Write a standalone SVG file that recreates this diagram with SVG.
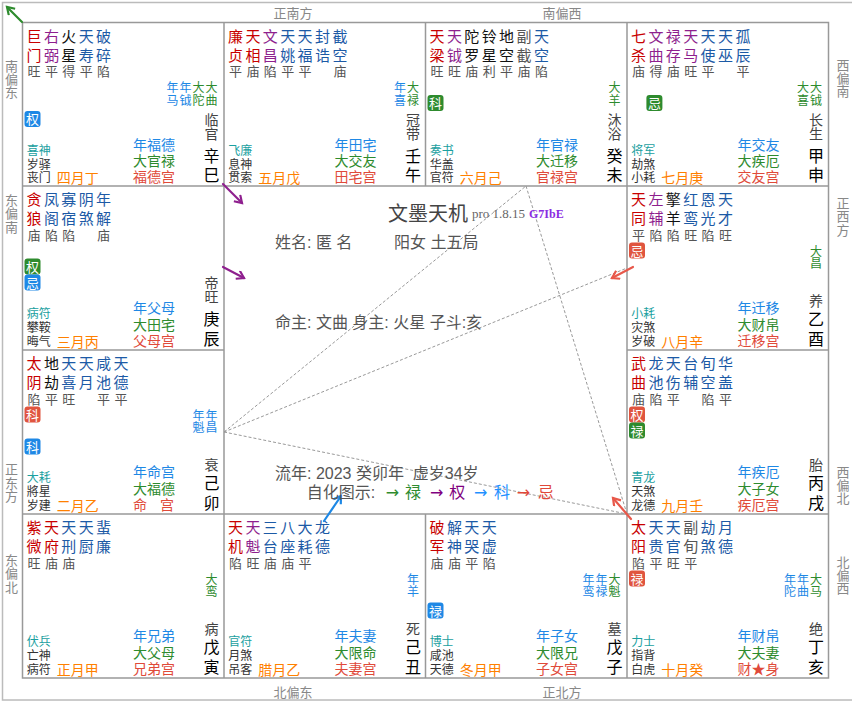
<svg xmlns="http://www.w3.org/2000/svg" width="852" height="702" viewBox="0 0 852 702">
<style>
text{font-family:"Liberation Sans","Noto Sans CJK SC",sans-serif}
.st{font-size:15px}
.r{fill:#c80000}.p{fill:#8e1f8e}.b{fill:#1c5aa6}.k{fill:#111}.gy{fill:#555}
.br{font-size:13px;fill:#555}
.sm{font-size:12px;text-anchor:middle}
.sb{fill:#1e88e5}.sg{fill:#2e8b2e}
.cs{font-size:14px;fill:#444;text-anchor:middle}
.gz{font-size:16px;fill:#000;text-anchor:middle}
.bs{font-size:12px;fill:#1aa0a0}
.t2{font-size:12px;fill:#333}
.mo{font-size:14px;fill:#ff8000}
.pa{font-size:14px}
.pb{fill:#1e88e5}.pg{fill:#2e8b2e}.pr{fill:#e04a3a}
.bdt{font-size:13px;fill:#fff;text-anchor:middle}
.dir{font-size:13px;fill:#888;text-anchor:middle}
.ctr{font-size:16px;fill:#555}
.ar{font-family:"DejaVu Sans","Noto Sans CJK SC",sans-serif;font-size:16px}
.grid{fill:none;stroke:#999;stroke-width:1.5}
.dash{fill:none;stroke:#999;stroke-width:1;stroke-dasharray:3 2}
.arr{fill:none;stroke-width:2.2;stroke-linecap:round}
</style>
<defs>
<marker id="mg" markerUnits="userSpaceOnUse" markerWidth="12" markerHeight="12" refX="8" refY="5" orient="auto"><path d="M1,0.5 L8,5 L1,9.5" fill="none" stroke="#2e8b2e" stroke-width="2.2"/></marker>
<marker id="mp" markerUnits="userSpaceOnUse" markerWidth="12" markerHeight="12" refX="8" refY="5" orient="auto"><path d="M1,0.5 L8,5 L1,9.5" fill="none" stroke="#8e1f8e" stroke-width="2.2"/></marker>
<marker id="mr" markerUnits="userSpaceOnUse" markerWidth="12" markerHeight="12" refX="8" refY="5" orient="auto"><path d="M1,0.5 L8,5 L1,9.5" fill="none" stroke="#e8584a" stroke-width="2.2"/></marker>
<marker id="mb" markerUnits="userSpaceOnUse" markerWidth="12" markerHeight="12" refX="8" refY="5" orient="auto"><path d="M1,0.5 L8,5 L1,9.5" fill="none" stroke="#1e88e5" stroke-width="2.2"/></marker>
</defs>
<rect x="0" y="0" width="852" height="702" fill="#fff"/>
<rect x="2.5" y="2.5" width="860" height="697.5" fill="none" stroke="#bbb" stroke-width="1.5"/>
<g id="grid">
<rect class="grid" x="22.5" y="22.5" width="806" height="655.5"/>
<path class="grid" d="M224,22.5V678 M627,22.5V678 M425.5,22.5V186 M425.5,514V678 M22.5,186H828.5 M22.5,514H828.5 M22.5,350H224 M627,350H828.5"/>
</g>
<g id="directions">
<text class="dir" x="293" y="18">正南方</text>
<text class="dir" x="562" y="18">南偏西</text>
<text class="dir" x="293" y="697">北偏东</text>
<text class="dir" x="562" y="697">正北方</text>
<text class="dir" x="11.5 11.5 11.5" y="71 84 97">南偏东</text>
<text class="dir" x="11.5 11.5 11.5" y="205 218 231.5">东偏南</text>
<text class="dir" x="11.5 11.5 11.5" y="474 487.5 501">正东方</text>
<text class="dir" x="11.5 11.5 11.5" y="565 578 591.5">东偏北</text>
<text class="dir" x="843 843 843" y="70 83 96">西偏南</text>
<text class="dir" x="843 843 843" y="208 221 234.5">正西方</text>
<text class="dir" x="843 843 843" y="476.7 490 503.3">西偏北</text>
<text class="dir" x="843 843 843" y="566.7 580 593.3">北偏西</text>
</g>

<g id="cell-si" transform="translate(22.5,22.5)">
<text class="st r" x="4 4" y="19.3 38">巨门</text>
<text class="st p" x="21.4 21.4" y="19.3 38">右弼</text>
<text class="st k" x="38.8 38.8" y="19.3 38">火星</text>
<text class="st b" x="56.2 56.2" y="19.3 38">天寿</text>
<text class="st b" x="73.6 73.6" y="19.3 38">破碎</text>
<text class="br" y="53.6" x="5 22.4 39.8 57.2 74.6">旺平得平陷</text>
<text class="sm sb" x="150 150" y="69.6 82.1">年马</text>
<text class="sm sb" x="163 163" y="69.6 82.1">年钺</text>
<text class="sm sg" x="176 176" y="69.6 82.1">大陀</text>
<text class="sm sg" x="189 189" y="69.6 82.1">大曲</text>
<rect x="2" y="88.5" width="16" height="16" rx="3" fill="#1e88e5"/><text class="bdt" x="10" y="101.6">权</text>
<text class="cs" x="189 189" y="102.3 116">临官</text>
<text class="gz" x="189 189" y="139 158.7">辛巳</text>
<text class="bs" x="4.2" y="132.4">喜神</text><text class="t2" x="4.2 16.2 4.2 16.2" y="146.3 146.3 159.6 159.6">岁驿丧门</text>
<text class="mo" x="34.2" y="160.7">四月丁</text>
<text class="pa pb" x="110.5" y="127.2">年福德</text><text class="pa pg" x="110.5" y="143.9">大官禄</text><text class="pa pr" x="110.5" y="159.9">福德宫</text>
</g>

<g id="cell-wu" transform="translate(224,22.5)">
<text class="st r" x="4 4" y="19.3 38">廉贞</text>
<text class="st r" x="21.4 21.4" y="19.3 38">天相</text>
<text class="st p" x="38.8 38.8" y="19.3 38">文昌</text>
<text class="st b" x="56.2 56.2" y="19.3 38">天姚</text>
<text class="st b" x="73.6 73.6" y="19.3 38">天福</text>
<text class="st b" x="91 91" y="19.3 38">封诰</text>
<text class="st b" x="108.4 108.4" y="19.3 38">截空</text>
<text class="br" y="53.6" x="5 22.4 39.8 57.2 74.6 109.4">平庙陷平平庙</text>
<text class="sm sb" x="176 176" y="69.6 82.1">年喜</text>
<text class="sm sg" x="189 189" y="69.6 82.1">大禄</text>
<text class="cs" x="189 189" y="102.3 116">冠带</text>
<text class="gz" x="189 189" y="139 158.7">壬午</text>
<text class="bs" x="4.2" y="132.4">飞廉</text><text class="t2" x="4.2 16.2 4.2 16.2" y="146.3 146.3 159.6 159.6">息神贯索</text>
<text class="mo" x="34.2" y="160.7">五月戊</text>
<text class="pa pb" x="110.5" y="127.2">年田宅</text><text class="pa pg" x="110.5" y="143.9">大交友</text><text class="pa pr" x="110.5" y="159.9">田宅宫</text>
</g>

<g id="cell-wei" transform="translate(425.5,22.5)">
<text class="st r" x="4 4" y="19.3 38">天梁</text>
<text class="st p" x="21.4 21.4" y="19.3 38">天钺</text>
<text class="st k" x="38.8 38.8" y="19.3 38">陀罗</text>
<text class="st k" x="56.2 56.2" y="19.3 38">铃星</text>
<text class="st k" x="73.6 73.6" y="19.3 38">地空</text>
<text class="st gy" x="91 91" y="19.3 38">副截</text>
<text class="st b" x="108.4 108.4" y="19.3 38">天空</text>
<text class="br" y="53.6" x="5 22.4 39.8 57.2 74.6 92 109.4">旺旺庙利平庙陷</text>
<text class="sm sg" x="189 189" y="69.6 82.1">大羊</text>
<rect x="2" y="72.5" width="16" height="16" rx="3" fill="#2e8b2e"/><text class="bdt" x="10" y="85.6">科</text>
<text class="cs" x="189 189" y="102.3 116">沐浴</text>
<text class="gz" x="189 189" y="139 158.7">癸未</text>
<text class="bs" x="4.2" y="132.4">奏书</text><text class="t2" x="4.2 16.2 4.2 16.2" y="146.3 146.3 159.6 159.6">华盖官符</text>
<text class="mo" x="34.2" y="160.7">六月己</text>
<text class="pa pb" x="110.5" y="127.2">年官禄</text><text class="pa pg" x="110.5" y="143.9">大迁移</text><text class="pa pr" x="110.5" y="159.9">官禄宫</text>
</g>

<g id="cell-shen" transform="translate(627,22.5)">
<text class="st r" x="4 4" y="19.3 38">七杀</text>
<text class="st p" x="21.4 21.4" y="19.3 38">文曲</text>
<text class="st p" x="38.8 38.8" y="19.3 38">禄存</text>
<text class="st p" x="56.2 56.2" y="19.3 38">天马</text>
<text class="st b" x="73.6 73.6" y="19.3 38">天使</text>
<text class="st b" x="91 91" y="19.3 38">天巫</text>
<text class="st b" x="108.4 108.4" y="19.3 38">孤辰</text>
<text class="br" y="53.6" x="5 22.4 39.8 57.2 74.6 109.4">庙得庙旺平平</text>
<text class="sm sg" x="176 176" y="69.6 82.1">大喜</text>
<text class="sm sg" x="189 189" y="69.6 82.1">大钺</text>
<rect x="19.4" y="72.5" width="16" height="16" rx="3" fill="#2e8b2e"/><text class="bdt" x="27.4" y="85.6">忌</text>
<text class="cs" x="189 189" y="102.3 116">长生</text>
<text class="gz" x="189 189" y="139 158.7">甲申</text>
<text class="bs" x="4.2" y="132.4">将军</text><text class="t2" x="4.2 16.2 4.2 16.2" y="146.3 146.3 159.6 159.6">劫煞小耗</text>
<text class="mo" x="34.2" y="160.7">七月庚</text>
<text class="pa pb" x="110.5" y="127.2">年交友</text><text class="pa pg" x="110.5" y="143.9">大疾厄</text><text class="pa pr" x="110.5" y="159.9">交友宫</text>
</g>

<g id="cell-chen" transform="translate(22.5,186)">
<text class="st r" x="4 4" y="19.3 38">贪狼</text>
<text class="st b" x="21.4 21.4" y="19.3 38">凤阁</text>
<text class="st b" x="38.8 38.8" y="19.3 38">寡宿</text>
<text class="st b" x="56.2 56.2" y="19.3 38">阴煞</text>
<text class="st b" x="73.6 73.6" y="19.3 38">年解</text>
<text class="br" y="53.6" x="5 22.4 39.8 74.6">庙陷陷庙</text>
<rect x="2" y="72.5" width="16" height="16" rx="3" fill="#2e8b2e"/><text class="bdt" x="10" y="85.6">权</text>
<rect x="2" y="88.5" width="16" height="16" rx="3" fill="#1e88e5"/><text class="bdt" x="10" y="101.6">忌</text>
<text class="cs" x="189 189" y="102.3 116">帝旺</text>
<text class="gz" x="189 189" y="139 158.7">庚辰</text>
<text class="bs" x="4.2" y="132.4">病符</text><text class="t2" x="4.2 16.2 4.2 16.2" y="146.3 146.3 159.6 159.6">攀鞍晦气</text>
<text class="mo" x="34.2" y="160.7">三月丙</text>
<text class="pa pb" x="110.5" y="127.2">年父母</text><text class="pa pg" x="110.5" y="143.9">大田宅</text><text class="pa pr" x="110.5" y="159.9">父母宫</text>
</g>

<g id="cell-mao" transform="translate(22.5,350)">
<text class="st r" x="4 4" y="19.3 38">太阴</text>
<text class="st k" x="21.4 21.4" y="19.3 38">地劫</text>
<text class="st b" x="38.8 38.8" y="19.3 38">天喜</text>
<text class="st b" x="56.2 56.2" y="19.3 38">天月</text>
<text class="st b" x="73.6 73.6" y="19.3 38">咸池</text>
<text class="st b" x="91 91" y="19.3 38">天德</text>
<text class="br" y="53.6" x="5 22.4 39.8 74.6 92">陷平旺平平</text>
<text class="sm sb" x="176 176" y="69.6 82.1">年魁</text>
<text class="sm sb" x="189 189" y="69.6 82.1">年昌</text>
<rect x="2" y="56.5" width="16" height="16" rx="3" fill="#e0553f"/><text class="bdt" x="10" y="69.6">科</text>
<rect x="2" y="88.5" width="16" height="16" rx="3" fill="#1e88e5"/><text class="bdt" x="10" y="101.6">科</text>
<text class="cs" x="189" y="119.6">衰</text>
<text class="gz" x="189 189" y="139 158.7">己卯</text>
<text class="bs" x="4.2" y="132.4">大耗</text><text class="t2" x="4.2 16.2 4.2 16.2" y="146.3 146.3 159.6 159.6">將星岁建</text>
<text class="mo" x="34.2" y="160.7">二月乙</text>
<text class="pa pb" x="110.5" y="127.2">年命宫</text><text class="pa pg" x="110.5" y="143.9">大福德</text><text class="pa pr" x="110.5 137.5" y="159.9 159.9">命宫</text>
</g>

<g id="cell-yin" transform="translate(22.5,514)">
<text class="st r" x="4 4" y="19.3 38">紫微</text>
<text class="st r" x="21.4 21.4" y="19.3 38">天府</text>
<text class="st b" x="38.8 38.8" y="19.3 38">天刑</text>
<text class="st b" x="56.2 56.2" y="19.3 38">天厨</text>
<text class="st b" x="73.6 73.6" y="19.3 38">蜚廉</text>
<text class="br" y="53.6" x="5 22.4 39.8">旺庙庙</text>
<text class="sm sg" x="189 189" y="69.6 82.1">大鸾</text>
<text class="cs" x="189" y="119.6">病</text>
<text class="gz" x="189 189" y="139 158.7">戊寅</text>
<text class="bs" x="4.2" y="132.4">伏兵</text><text class="t2" x="4.2 16.2 4.2 16.2" y="146.3 146.3 159.6 159.6">亡神病符</text>
<text class="mo" x="34.2" y="160.7">正月甲</text>
<text class="pa pb" x="110.5" y="127.2">年兄弟</text><text class="pa pg" x="110.5" y="143.9">大父母</text><text class="pa pr" x="110.5" y="159.9">兄弟宫</text>
</g>

<g id="cell-chou" transform="translate(224,514)">
<text class="st r" x="4 4" y="19.3 38">天机</text>
<text class="st p" x="21.4 21.4" y="19.3 38">天魁</text>
<text class="st b" x="38.8 38.8" y="19.3 38">三台</text>
<text class="st b" x="56.2 56.2" y="19.3 38">八座</text>
<text class="st b" x="73.6 73.6" y="19.3 38">大耗</text>
<text class="st b" x="91 91" y="19.3 38">龙德</text>
<text class="br" y="53.6" x="5 22.4 39.8 57.2 74.6">陷旺庙庙平</text>
<text class="sm sb" x="189 189" y="69.6 82.1">年羊</text>
<text class="cs" x="189" y="119.6">死</text>
<text class="gz" x="189 189" y="139 158.7">己丑</text>
<text class="bs" x="4.2" y="132.4">官符</text><text class="t2" x="4.2 16.2 4.2 16.2" y="146.3 146.3 159.6 159.6">月煞吊客</text>
<text class="mo" x="34.2" y="160.7">腊月乙</text>
<text class="pa pb" x="110.5" y="127.2">年夫妻</text><text class="pa pg" x="110.5" y="143.9">大限命</text><text class="pa pr" x="110.5" y="159.9">夫妻宫</text>
</g>

<g id="cell-zi" transform="translate(425.5,514)">
<text class="st r" x="4 4" y="19.3 38">破军</text>
<text class="st b" x="21.4 21.4" y="19.3 38">解神</text>
<text class="st b" x="38.8 38.8" y="19.3 38">天哭</text>
<text class="st b" x="56.2 56.2" y="19.3 38">天虚</text>
<text class="br" y="53.6" x="5 22.4 39.8 57.2">庙庙平陷</text>
<text class="sm sb" x="163 163" y="69.6 82.1">年鸾</text>
<text class="sm sb" x="176 176" y="69.6 82.1">年禄</text>
<text class="sm sg" x="189 189" y="69.6 82.1">大魁</text>
<rect x="2" y="88.5" width="16" height="16" rx="3" fill="#1e88e5"/><text class="bdt" x="10" y="101.6">禄</text>
<text class="cs" x="189" y="119.6">墓</text>
<text class="gz" x="189 189" y="139 158.7">戊子</text>
<text class="bs" x="4.2" y="132.4">博士</text><text class="t2" x="4.2 16.2 4.2 16.2" y="146.3 146.3 159.6 159.6">咸池天德</text>
<text class="mo" x="34.2" y="160.7">冬月甲</text>
<text class="pa pb" x="110.5" y="127.2">年子女</text><text class="pa pg" x="110.5" y="143.9">大限兄</text><text class="pa pr" x="110.5" y="159.9">子女宫</text>
</g>

<g id="cell-hai" transform="translate(627,514)">
<text class="st r" x="4 4" y="19.3 38">太阳</text>
<text class="st b" x="21.4 21.4" y="19.3 38">天贵</text>
<text class="st b" x="38.8 38.8" y="19.3 38">天官</text>
<text class="st gy" x="56.2 56.2" y="19.3 38">副旬</text>
<text class="st b" x="73.6 73.6" y="19.3 38">劫煞</text>
<text class="st b" x="91 91" y="19.3 38">月德</text>
<text class="br" y="53.6" x="5 22.4 39.8 57.2">陷平旺平</text>
<text class="sm sb" x="163 163" y="69.6 82.1">年陀</text>
<text class="sm sb" x="176 176" y="69.6 82.1">年曲</text>
<text class="sm sg" x="189 189" y="69.6 82.1">大马</text>
<rect x="2" y="56.5" width="16" height="16" rx="3" fill="#e0553f"/><text class="bdt" x="10" y="69.6">禄</text>
<text class="cs" x="189" y="119.6">绝</text>
<text class="gz" x="189 189" y="139 158.7">丁亥</text>
<text class="bs" x="4.2" y="132.4">力士</text><text class="t2" x="4.2 16.2 4.2 16.2" y="146.3 146.3 159.6 159.6">指背白虎</text>
<text class="mo" x="34.2" y="160.7">十月癸</text>
<text class="pa pb" x="110.5" y="127.2">年财帛</text><text class="pa pg" x="110.5" y="143.9">大夫妻</text><text class="pa pr" x="110.5" y="159.9">财★身</text>
</g>

<g id="cell-xu" transform="translate(627,350)">
<text class="st r" x="4 4" y="19.3 38">武曲</text>
<text class="st b" x="21.4 21.4" y="19.3 38">龙池</text>
<text class="st b" x="38.8 38.8" y="19.3 38">天伤</text>
<text class="st b" x="56.2 56.2" y="19.3 38">台辅</text>
<text class="st b" x="73.6 73.6" y="19.3 38">旬空</text>
<text class="st b" x="91 91" y="19.3 38">华盖</text>
<text class="br" y="53.6" x="5 22.4 39.8 74.6 92">庙陷平陷平</text>
<rect x="2" y="56.5" width="16" height="16" rx="3" fill="#e0553f"/><text class="bdt" x="10" y="69.6">权</text>
<rect x="2" y="72.5" width="16" height="16" rx="3" fill="#2e8b2e"/><text class="bdt" x="10" y="85.6">禄</text>
<text class="cs" x="189" y="119.6">胎</text>
<text class="gz" x="189 189" y="139 158.7">丙戌</text>
<text class="bs" x="4.2" y="132.4">青龙</text><text class="t2" x="4.2 16.2 4.2 16.2" y="146.3 146.3 159.6 159.6">天煞龙德</text>
<text class="mo" x="34.2" y="160.7">九月壬</text>
<text class="pa pb" x="110.5" y="127.2">年疾厄</text><text class="pa pg" x="110.5" y="143.9">大子女</text><text class="pa pr" x="110.5" y="159.9">疾厄宫</text>
</g>

<g id="cell-you" transform="translate(627,186)">
<text class="st r" x="4 4" y="19.3 38">天同</text>
<text class="st p" x="21.4 21.4" y="19.3 38">左辅</text>
<text class="st k" x="38.8 38.8" y="19.3 38">擎羊</text>
<text class="st b" x="56.2 56.2" y="19.3 38">红鸾</text>
<text class="st b" x="73.6 73.6" y="19.3 38">恩光</text>
<text class="st b" x="91 91" y="19.3 38">天才</text>
<text class="br" y="53.6" x="5 22.4 39.8 57.2 74.6 92">平陷陷旺陷旺</text>
<text class="sm sg" x="189 189" y="69.6 82.1">大昌</text>
<rect x="2" y="56.5" width="16" height="16" rx="3" fill="#e0553f"/><text class="bdt" x="10" y="69.6">忌</text>
<text class="cs" x="189" y="119.6">养</text>
<text class="gz" x="189 189" y="139 158.7">乙酉</text>
<text class="bs" x="4.2" y="132.4">小耗</text><text class="t2" x="4.2 16.2 4.2 16.2" y="146.3 146.3 159.6 159.6">灾煞岁破</text>
<text class="mo" x="34.2" y="160.7">八月辛</text>
<text class="pa pb" x="110.5" y="127.2">年迁移</text><text class="pa pg" x="110.5" y="143.9">大财帛</text><text class="pa pr" x="110.5" y="159.9">迁移宫</text>
</g>

<g id="connectors">
<path class="dash" d="M224,432 L526,186 M224,432 L627,268 M224,432 L627,514 M526,186 L627,514"/>
<path class="arr" stroke="#2e8b2e" marker-end="url(#mg)" d="M22,22 L7,7"/>
<path class="arr" stroke="#8e1f8e" marker-end="url(#mp)" d="M223,184 L242,203"/>
<path class="arr" stroke="#8e1f8e" marker-end="url(#mp)" d="M223,267 L244,278"/>
<path class="arr" stroke="#e8584a" marker-end="url(#mr)" d="M633,267 L612,278"/>
<path class="arr" stroke="#e8584a" marker-end="url(#mr)" d="M631,519 L613,498"/>
<path class="arr" stroke="#1e88e5" marker-end="url(#mb)" d="M324,521 L341,496"/>
</g>

<g id="center">
<text x="388" y="221" style="font-size:20px;fill:#444">文墨天机</text>
<text x="472" y="218" style="font-family:'Liberation Serif',serif;font-size:13px;fill:#666">pro 1.8.15</text>
<text x="529" y="218" style="font-family:'Liberation Serif',serif;font-size:12px;font-weight:bold;fill:#8a2be2">G7IbE</text>
<text class="ctr" x="275" y="247.7">姓名: 匿 名</text>
<text class="ctr" x="394" y="247.7">阳女 土五局</text>
<text class="ctr" x="275" y="327.7">命主: 文曲 身主: 火星 子斗:亥</text>
<text class="ctr" x="275" y="479.3">流年: 2023 癸卯年&#160; 虚岁34岁</text>
<text class="ctr" x="306.7" y="497.7">自化图示:</text>
<text class="ar" style="fill:#2e8b2e" x="385.7 405" y="497.7 497.7">→禄</text>
<text class="ar" style="fill:#800080" x="430 449.3" y="497.7 497.7">→权</text>
<text class="ar" style="fill:#1e90ff" x="474 494" y="497.7 497.7">→科</text>
<text class="ar" style="fill:#e0483a" x="516.7 537.7" y="497.7 497.7">→忌</text>
</g>
</svg>
